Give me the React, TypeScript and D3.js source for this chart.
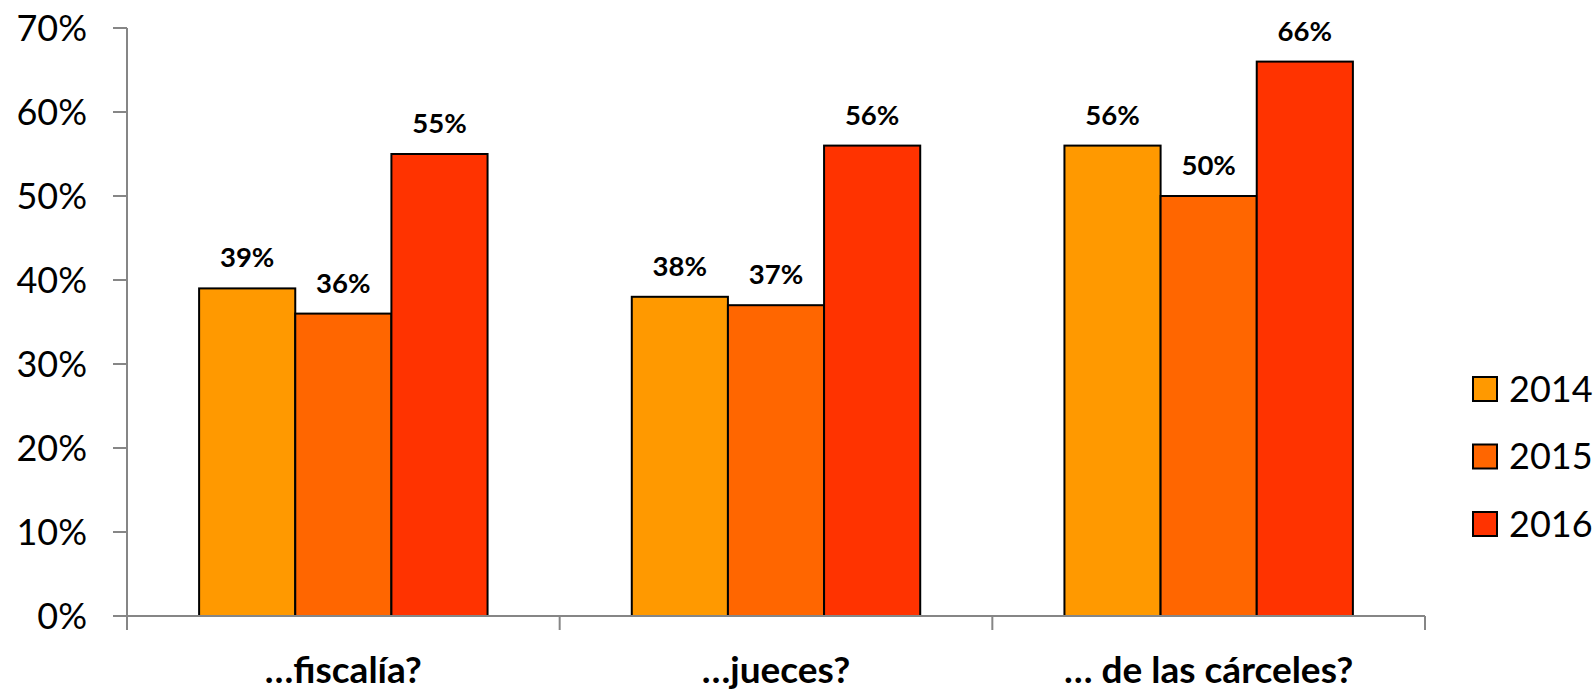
import React from "react";
import * as d3 from "d3";

const categories = ["…fiscalía?", "…jueces?", "… de las cárceles?"];
const years = ["2014", "2015", "2016"];
const values2014 = [0.39, 0.38, 0.56];
const values2015 = [0.36, 0.37, 0.5];
const values2016 = [0.55, 0.56, 0.66];
const yTicks = [0, 0.1, 0.2, 0.3, 0.4, 0.5, 0.6, 0.7];
const colors = ["#FF9900", "#FF6600", "#FF3300"];

const W = 1596;
const H = 690;
const FONT = "Lato, 'Open Sans', sans-serif";

export default function App() {
  const series = [values2014, values2015, values2016];
  const x = d3.scaleBand<string>().domain(categories).range([127, 1425]).paddingInner(0).paddingOuter(0);
  const xi = d3.scaleBand<string>().domain(years).range([0, x.bandwidth()]).paddingInner(0).paddingOuter(0.75);
  const y = d3.scaleLinear().domain([0, 0.7]).range([616, 28]);
  const fmt = d3.format(".0%");
  const x0 = x.range()[0];
  const x1 = x.range()[1];
  const boundaries = [...categories.map((c) => x(c) as number), x1];

  return (
    <svg width={W} height={H} style={{ position: "absolute", left: 0, top: 0, background: "#fff" }} fontFamily={FONT}>
      {/* y axis */}
      <line x1={x0} x2={x0} y1={y(0.7)} y2={y(0)} stroke="#868686" strokeWidth={2} />
      {yTicks.map((t) => (
        <g key={t}>
          <line x1={x0 - 14} x2={x0} y1={y(t)} y2={y(t)} stroke="#868686" strokeWidth={2} />
          <text x={x0 - 40} y={y(t)} dy="0.36em" textAnchor="end" fontSize={36} fill="#000">
            {fmt(t)}
          </text>
        </g>
      ))}
      {/* bars */}
      {categories.map((c, ci) => (
        <g key={c} transform={`translate(${x(c)},0)`}>
          {years.map((yr, si) => {
            const v = series[si][ci];
            const bx = xi(yr) as number;
            return (
              <g key={yr}>
                <rect x={bx} y={y(v)} width={xi.bandwidth()} height={y(0) - y(v)} fill={colors[si]} stroke="#000" strokeWidth={2} />
                <text x={bx + xi.bandwidth() / 2} y={y(v) - 21} textAnchor="middle" fontSize={27.5} fontWeight="bold" fill="#000">
                  {fmt(v)}
                </text>
              </g>
            );
          })}
        </g>
      ))}
      {/* x axis */}
      <line x1={x0} x2={x1} y1={y(0)} y2={y(0)} stroke="#868686" strokeWidth={2} />
      {boundaries.map((b, i) => (
        <line key={i} x1={b} x2={b} y1={y(0)} y2={y(0) + 14} stroke="#868686" strokeWidth={2} />
      ))}
      {categories.map((c) => (
        <text key={c} x={(x(c) as number) + x.bandwidth() / 2} y={683} textAnchor="middle" fontSize={37} fontWeight="bold" fill="#000">
          {c}
        </text>
      ))}
      {/* legend */}
      {years.map((yr, i) => (
        <g key={yr} transform={`translate(1473,${377 + i * 67.5})`}>
          <rect x={0} y={0} width={24} height={24} fill={colors[i]} stroke="#000" strokeWidth={2} />
          <text x={36} y={12} dy="0.36em" fontSize={36} fill="#000">
            {yr}
          </text>
        </g>
      ))}
    </svg>
  );
}
